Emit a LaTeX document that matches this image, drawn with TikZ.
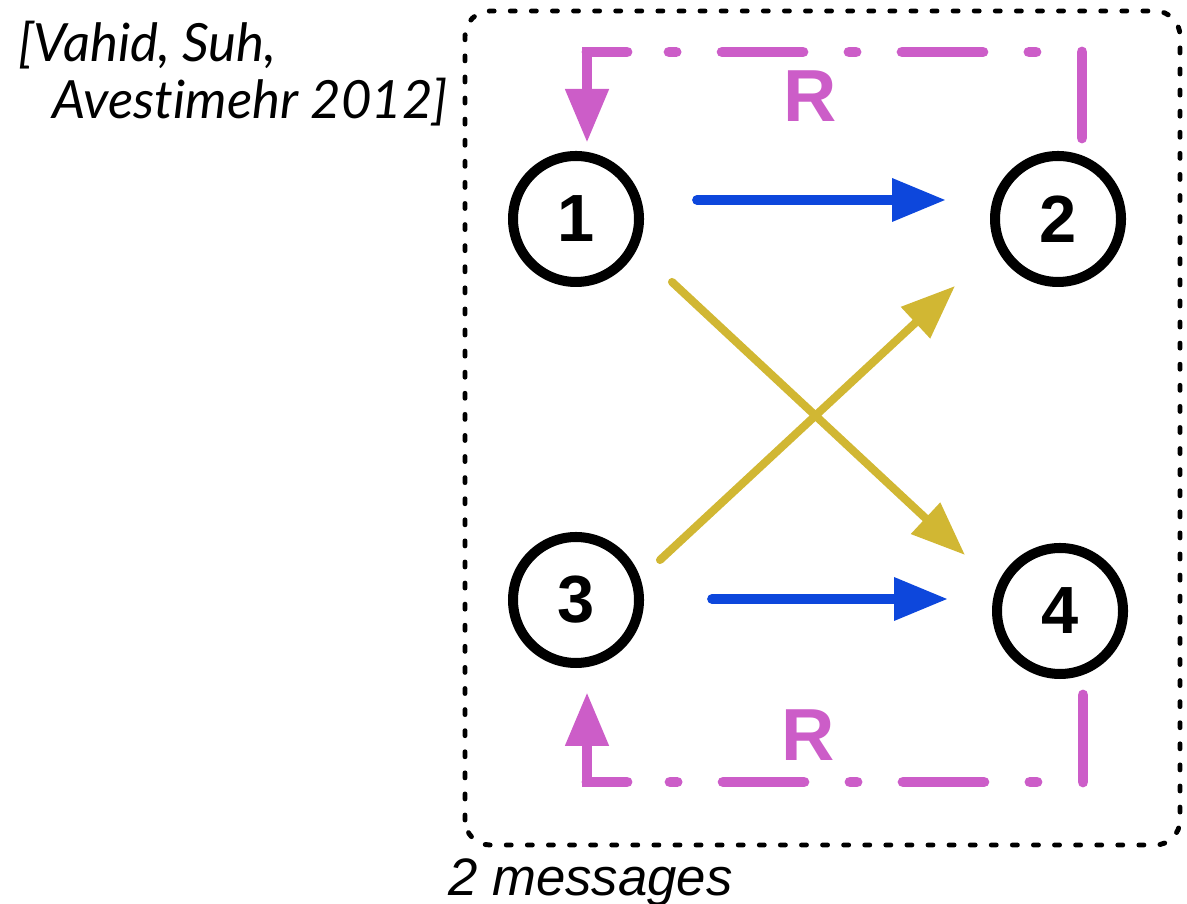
\documentclass[tikz,border=0pt]{standalone}
\usepackage{fontspec}
\setmainfont{Liberation Sans}
\newfontfamily\citefont[Ligatures=NoCommon]{Lato}
\usepackage{tikz}
\usetikzlibrary{arrows.meta,positioning,calc}
\definecolor{msgblue}{HTML}{0D47DC}
\definecolor{msgyellow}{HTML}{D1B733}
\definecolor{relaypink}{HTML}{CC5DC8}

\tikzset{
  user/.style={circle,draw,line width=2.85pt,minimum size=1.26cm,inner sep=0pt,
    font=\fontsize{19}{19}\selectfont\bfseries},
  msgtip/.style={-{Triangle[length=0.54cm,width=0.41cm]}},
  direct/.style={msgtip,msgblue,line width=2.8pt,line cap=round},
  cross/.style={msgtip,msgyellow,line width=2.3pt,line cap=round},
  relay/.style={relaypink,line width=3.1pt,line cap=round},
  relaydash/.style={relay,dash pattern=on 23pt off 13.1pt on 2pt off 13.1pt,dash phase=23pt},
  rlabel/.style={relaypink,font=\fontsize{21}{21}\selectfont\bfseries},
  cite/.style={font=\fontsize{15}{15}\citefont\itshape},
  session/.style={line width=1.4pt,line cap=round,dash pattern=on 1.4pt off 4.6pt,rounded corners=0.25cm}
}

\begin{document}
\begin{tikzpicture}
\useasboundingbox (0,0) rectangle (11.87,9.04);

% the four users
\node[user] (n1) at (5.76,6.85) {1};
\node[user] (n2) at (10.58,6.85) {2};
\node[user] (n3) at (5.76,3.04) {3};
\node[user] (n4) at (10.60,2.93) {4};

% session box
\draw[session] (4.65,0.59) rectangle (11.80,8.93);

% direct and cross messages
\draw[direct] ($(n1)+(1.21,0.19)$) -- ($(n2)+(-1.12,0.19)$);
\draw[direct] ($(n3)+(1.36,0.01)$) -- ($(n4)+(-1.12,0.12)$);
\draw[cross] ($(n1)+(0.96,-0.63)$) -- ($(n4)+(-0.95,0.56)$);
\draw[cross] ($(n3)+(0.84,0.40)$) -- ($(n2)+(-1.03,-0.67)$);

% feedback 2 -> 1
\coordinate (fb2) at ($(n2)+(0.24,0.81)$);
\coordinate (fb1) at ($(n1)+(0.11,0.76)$);
\coordinate (fbt) at (0,8.52);
\draw[relay] (fb2) -- (fb2 |- fbt);
\draw[relaydash] (fb2 |- fbt) -- (fb1 |- fbt);
\draw[relay,msgtip] ($(fb1 |- fbt)+(0.4,0)$) -| (fb1);
\node[rlabel] (rt) at (8.10,8.08) {R};

% feedback 4 -> 3
\coordinate (fb4) at ($(n4)+(0.23,-0.84)$);
\coordinate (fb3) at ($(n3)+(0.11,-0.92)$);
\coordinate (fbb) at (0,1.22);
\draw[relay] (fb4) -- (fb4 |- fbb);
\draw[relaydash] (fb4 |- fbb) -- (fb3 |- fbb);
\draw[relay,msgtip] ($(fb3 |- fbb)+(0.4,0)$) -| (fb3);
\node[rlabel] (rb) at (8.08,1.69) {R};

% labels
\node[cite,anchor=base west] (ref1) at (0.06,8.42) {[Vahid, Suh,};
\node[cite,anchor=base west] (ref2) at (0.40,7.85) {Avestimehr 2012]};
\node[anchor=base west,font=\fontsize{15}{15}\selectfont\itshape] (msgs) at (4.36,0.09) {2 messages};
\end{tikzpicture}
\end{document}
